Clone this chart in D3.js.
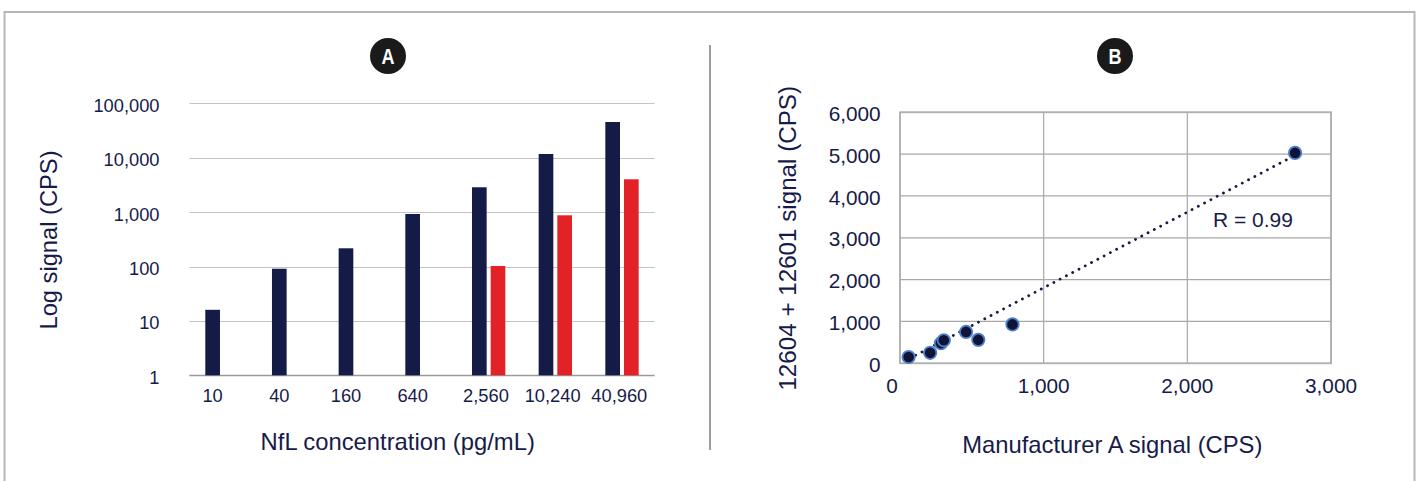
<!DOCTYPE html>
<html>
<head>
<meta charset="utf-8">
<script src="https://cdn.jsdelivr.net/npm/d3@7"></script>
<style>
    body { margin: 0; background: #fff; }
    svg { display: block; font-family: "Liberation Sans", Arial, sans-serif; }
</style>
</head>
<body>
<script>
// Panel A data (log signal per NfL concentration)
const concentrations = ["10", "40", "160", "640", "2,560", "10,240", "40,960"];
const navySignal = [16, 91, 216, 923, 2860, 11700, 45300];
const redSignal = [null, null, null, null, 102, 873, 4010];
const logTicks = [1, 10, 100, 1000, 10000, 100000];

// Panel B data (method comparison)
const manufacturerA = [60, 210, 285, 305, 460, 545, 783, 2750];
const combinedSignal = [150, 250, 480, 550, 750, 560, 930, 5030];
const xTicksB = [0, 1000, 2000, 3000];
const yTicksB = [0, 1000, 2000, 3000, 4000, 5000, 6000];
const trendSlope = 1.81;
const trendIntercept = -5;
const trendRange = [65, 2750];

const width = 1416;
const height = 481;
const textColor = "#171b4a";
const navy = "#131b46";
const red = "#e32227";
const fmt = d3.format(",");

const svg = d3.select("body").append("svg")
    .attr("width", width)
    .attr("height", height);

// outer frame
svg.append("rect")
    .attr("x", 4.5).attr("y", 12)
    .attr("width", 1410).attr("height", 500)
    .attr("fill", "none")
    .attr("stroke", "#b8b8b8")
    .attr("stroke-width", 2);

// divider
svg.append("line")
    .attr("x1", 710).attr("x2", 710)
    .attr("y1", 45).attr("y2", 450)
    .attr("stroke", "#3a3a3a")
    .attr("stroke-width", 1);

function badge(cx, cy, letter) {
    svg.append("circle")
        .attr("cx", cx).attr("cy", cy).attr("r", 18)
        .attr("fill", "#1a1a1a");
    svg.append("text")
        .attr("x", cx).attr("y", cy + 8)
        .attr("text-anchor", "middle")
        .attr("fill", "#fff")
        .attr("font-weight", "bold")
        .attr("font-size", 22)
        .attr("transform", `translate(${cx},0) scale(0.82,1) translate(${-cx},0)`)
        .text(letter);
}

// ---------- Panel A ----------
function drawPanelA() {
    const x = d3.scaleBand()
        .domain(concentrations)
        .range([179.3, 646])
        .padding(0);
    const y = d3.scaleLog()
        .domain([1, 100000])
        .range([375.3, 103.3]);
    const bw = x.bandwidth() * 0.22;
    const gap = 4;

    const g = svg.append("g");

    g.append("g")
        .selectAll("line")
        .data(logTicks)
        .enter().append("line")
        .attr("x1", 189.3).attr("x2", 654.7)
        .attr("y1", d => Math.round(y(d)) + 0.5)
        .attr("y2", d => Math.round(y(d)) + 0.5)
        .attr("stroke", d => d === 1 ? "#9a9a9a" : "#c4c4c4")
        .attr("stroke-width", d => d === 1 ? 1.5 : 1.2);

    g.append("g")
        .selectAll("text")
        .data(logTicks)
        .enter().append("text")
        .attr("x", 159.5)
        .attr("y", d => y(d) + 8.4)
        .attr("text-anchor", "end")
        .attr("font-size", 18.3)
        .attr("fill", textColor)
        .text(d => fmt(d));

    const center = d => x(d) + x.bandwidth() / 2;

    g.append("g")
        .selectAll("rect")
        .data(concentrations)
        .enter().append("rect")
        .attr("x", d => center(d) - bw / 2)
        .attr("width", bw)
        .attr("y", (d, i) => y(navySignal[i]))
        .attr("height", (d, i) => y(1) - y(navySignal[i]))
        .attr("fill", navy);

    g.append("g")
        .selectAll("rect")
        .data(concentrations.filter((d, i) => redSignal[i] != null))
        .enter().append("rect")
        .attr("x", d => center(d) + bw / 2 + gap)
        .attr("width", bw)
        .attr("y", d => y(redSignal[concentrations.indexOf(d)]))
        .attr("height", d => y(1) - y(redSignal[concentrations.indexOf(d)]))
        .attr("fill", red);

    g.append("g")
        .selectAll("text")
        .data(concentrations)
        .enter().append("text")
        .attr("x", (d, i) => center(d) + (redSignal[i] != null ? x.bandwidth() * 0.1 : 0))
        .attr("y", 401.7)
        .attr("text-anchor", "middle")
        .attr("font-size", 18.3)
        .attr("fill", textColor)
        .text(d => d);

    g.append("text")
        .attr("transform", "translate(57,240) rotate(-90)")
        .attr("text-anchor", "middle")
        .attr("font-size", 23.7)
        .attr("fill", textColor)
        .text("Log signal (CPS)");

    g.append("text")
        .attr("x", 397.7).attr("y", 450)
        .attr("text-anchor", "middle")
        .attr("font-size", 23.8)
        .attr("fill", textColor)
        .text("NfL concentration (pg/mL)");

    badge(388, 56, "A");
}

// ---------- Panel B ----------
function drawPanelB() {
    const x = d3.scaleLinear().domain([0, 3000]).range([900, 1331]);
    const y = d3.scaleLinear().domain([0, 6000]).range([363.3, 112.3]);

    const g = svg.append("g");

    g.append("g")
        .selectAll("line")
        .data(yTicksB)
        .enter().append("line")
        .attr("x1", x(0)).attr("x2", x(3000))
        .attr("y1", d => y(d)).attr("y2", d => y(d))
        .attr("stroke", "#a8a8a8")
        .attr("stroke-width", 1.2);

    g.append("g")
        .selectAll("line")
        .data(xTicksB)
        .enter().append("line")
        .attr("x1", d => x(d)).attr("x2", d => x(d))
        .attr("y1", y(0)).attr("y2", y(6000))
        .attr("stroke", "#a8a8a8")
        .attr("stroke-width", 1.2);

    g.append("rect")
        .attr("x", x(0)).attr("y", y(6000))
        .attr("width", x(3000) - x(0))
        .attr("height", y(0) - y(6000))
        .attr("fill", "none")
        .attr("stroke", "#b0b0b0")
        .attr("stroke-width", 1.8);

    g.append("g")
        .selectAll("text")
        .data(yTicksB)
        .enter().append("text")
        .attr("x", 880.7)
        .attr("y", d => y(d) + 8.6)
        .attr("text-anchor", "end")
        .attr("font-size", 20.8)
        .attr("fill", textColor)
        .text(d => fmt(d));

    g.append("g")
        .selectAll("text")
        .data(xTicksB)
        .enter().append("text")
        .attr("x", d => x(d) - (d === 0 ? 8 : 0))
        .attr("y", 393)
        .attr("text-anchor", "middle")
        .attr("font-size", 20.8)
        .attr("fill", textColor)
        .text(d => fmt(d));

    // dotted trendline
    g.append("line")
        .attr("x1", x(trendRange[0]))
        .attr("y1", y(trendSlope * trendRange[0] + trendIntercept))
        .attr("x2", x(trendRange[1]))
        .attr("y2", y(trendSlope * trendRange[1] + trendIntercept))
        .attr("stroke", navy)
        .attr("stroke-width", 2.8)
        .attr("stroke-linecap", "round")
        .attr("stroke-dasharray", "0.1 7");

    g.append("g")
        .selectAll("circle")
        .data(manufacturerA)
        .enter().append("circle")
        .attr("cx", d => x(d))
        .attr("cy", (d, i) => y(combinedSignal[i]))
        .attr("r", 6.2)
        .attr("fill", "#0f1338")
        .attr("stroke", "#4f7fc7")
        .attr("stroke-width", 1.8);

    g.append("text")
        .attr("x", 1253).attr("y", 226.7)
        .attr("text-anchor", "middle")
        .attr("font-size", 21)
        .attr("fill", textColor)
        .text("R = 0.99");

    g.append("text")
        .attr("transform", "translate(796,238.3) rotate(-90)")
        .attr("text-anchor", "middle")
        .attr("font-size", 24.2)
        .attr("fill", textColor)
        .text("12604 + 12601 signal (CPS)");

    g.append("text")
        .attr("x", 1112.3).attr("y", 453)
        .attr("text-anchor", "middle")
        .attr("font-size", 23.8)
        .attr("fill", textColor)
        .text("Manufacturer A signal (CPS)");

    badge(1115, 56, "B");
}

drawPanelA();
drawPanelB();
</script>
</body>
</html>
